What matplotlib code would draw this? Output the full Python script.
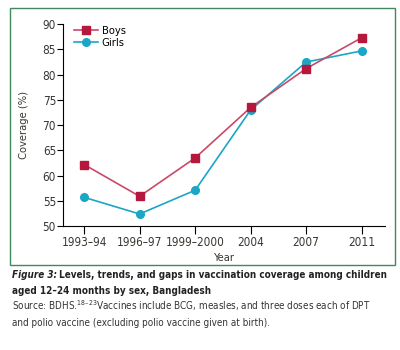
import matplotlib.pyplot as plt
from matplotlib.patches import Rectangle

years = ["1993–94", "1996–97", "1999–2000", "2004", "2007", "2011"]
boys = [62.2, 55.9, 63.5, 73.5, 81.2, 87.3]
girls = [55.7, 52.4, 57.1, 73.0, 82.5, 84.7]
yticks = [50, 55, 60, 65, 70, 75, 80, 85, 90]

boys_col = "#b5173d"
boys_line = "#c84a67"
girls_col = "#1ba6c6"
text_col = "#3a3530"

plt.rcParams["font.family"] = ["DejaVu Sans"]
plt.rcParams["font.stretch"] = "condensed"

fig = plt.figure(figsize=(4, 3.5), dpi=100)

# green frame round the chart
fig.patches.append(Rectangle((0.025, 0.243), 0.9625, 0.734, transform=fig.transFigure,
                             fill=False, edgecolor="#3f8a5c", linewidth=1.0))

ax = fig.add_axes([0.1575, 0.354, 0.805, 0.577])
x = range(len(years))
ax.plot(x, boys, color=boys_line, lw=1.2, marker="s", ms=5.5,
        mfc=boys_col, mec=boys_col, label="Boys", zorder=3)
ax.plot(x, girls, color=girls_col, lw=1.2, marker="o", ms=5.5,
        mfc=girls_col, mec=girls_col, label="Girls", zorder=2)

ax.set_ylim(50, 90)
ax.set_xlim(-0.38, 5.42)
ax.set_yticks(yticks)
ax.set_xticks(list(x))
ax.set_xticklabels(years)
ax.spines["top"].set_visible(False)
ax.spines["right"].set_visible(False)
ax.tick_params(axis="y", direction="out", length=4, width=0.8, labelsize=8.5,
               labelcolor=text_col, pad=1)
ax.tick_params(axis="x", direction="out", length=6, width=0.8, labelsize=8.5,
               labelcolor=text_col, pad=1)
ax.set_ylabel("Coverage (%)", fontsize=8, color=text_col, labelpad=10)
ax.set_xlabel("Year", fontsize=8, color=text_col, labelpad=3)

ax.legend(loc="upper left", bbox_to_anchor=(0.01, 1.03), frameon=False,
          fontsize=8, handlelength=2.2, handletextpad=0.3, labelspacing=0.2,
          borderpad=0.2)

# caption, shrunk until each line fits the frame width
renderer = fig.canvas.get_renderer()
W = fig.bbox.width


def fit(t, right_px):
    size = t.get_fontsize()
    while t.get_window_extent(renderer).x1 > right_px and size > 5:
        size -= 0.1
        t.set_fontsize(size)
    return size


t1 = fig.text(0.03, 0.205, "Figure 3:", fontsize=8.5, fontweight="bold",
              fontstyle="italic", color="#222222")
t2 = fig.text(0.03, 0.205, "Levels, trends, and gaps in vaccination coverage among children",
              fontsize=8.5, fontweight="bold", color="#222222")
for _ in range(40):
    bb = t1.get_window_extent(renderer)
    t2.set_x(bb.x1 / W + 0.006)
    if t2.get_window_extent(renderer).x1 <= 388:
        break
    s = t1.get_fontsize() - 0.1
    t1.set_fontsize(s)
    t2.set_fontsize(s)
fig.text(0.03, 0.16, "aged 12–24 months by sex, Bangladesh",
         fontsize=t2.get_fontsize(), fontweight="bold", color="#222222")
t4 = fig.text(0.03, 0.115, "Source: BDHS.$^{18–23}$Vaccines include BCG, measles, and three doses each of DPT",
              fontsize=8, color="#333333")
s4 = fit(t4, 372)
fig.text(0.03, 0.07, "and polio vaccine (excluding polio vaccine given at birth).",
         fontsize=s4, color="#333333")

fig.savefig("out.png", dpi=100)
